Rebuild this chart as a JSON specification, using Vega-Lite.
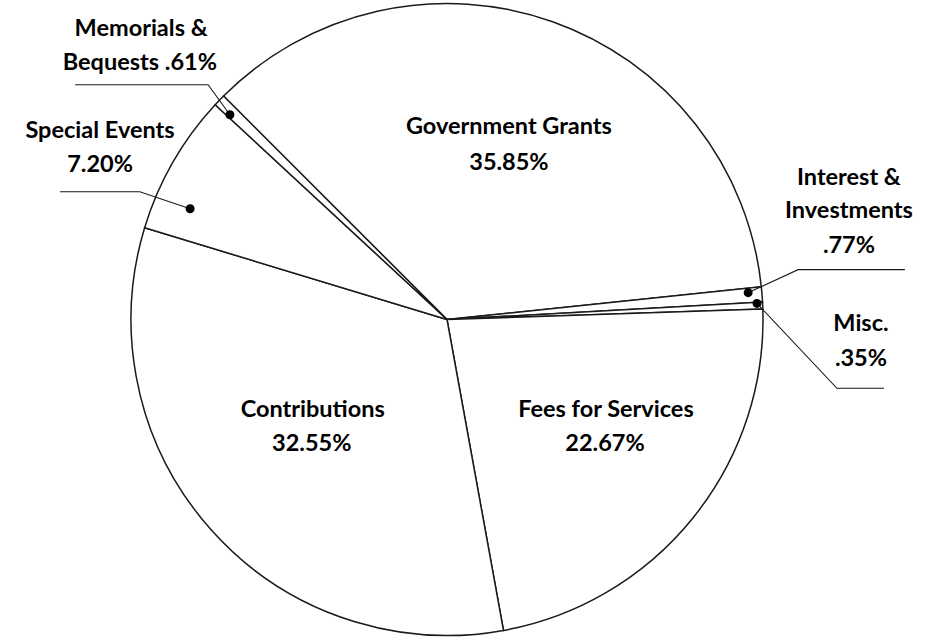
{
  "$schema": "https://vega.github.io/schema/vega-lite/v6.json",
  "width": 938,
  "height": 639,
  "autosize": {"type": "fit", "contains": "padding"},
  "padding": 0,
  "background": "white",
  "config": {"view": {"stroke": null}},
  "datasets": {
    "slices": [
      {"source": "Government Grants", "pct": 35.85, "rank": 1},
      {"source": "Interest & Investments", "pct": 0.77, "rank": 2},
      {"source": "Misc.", "pct": 0.35, "rank": 3},
      {"source": "Fees for Services", "pct": 22.67, "rank": 4},
      {"source": "Contributions", "pct": 32.55, "rank": 5},
      {"source": "Special Events", "pct": 7.20, "rank": 6},
      {"source": "Memorials & Bequests", "pct": 0.61, "rank": 7}
    ],
    "labels": [
      {"text": "Government Grants", "u": 19.6, "v": 58.9},
      {"text": "35.85%", "u": 19.6, "v": 47.5},
      {"text": "Fees for Services", "u": 50.3, "v": -31.0},
      {"text": "22.67%", "u": 50.0, "v": -41.8},
      {"text": "Contributions", "u": -42.5, "v": -31.0},
      {"text": "32.55%", "u": -42.8, "v": -41.8},
      {"text": "Special Events", "u": -109.8, "v": 57.6},
      {"text": "7.20%", "u": -109.8, "v": 46.8},
      {"text": "Memorials &", "u": -96.8, "v": 89.9},
      {"text": "Bequests .61%", "u": -97.2, "v": 79.1},
      {"text": "Interest &", "u": 127.2, "v": 42.7},
      {"text": "Investments", "u": 127.2, "v": 32.3},
      {"text": ".77%", "u": 127.2, "v": 21.2},
      {"text": "Misc.", "u": 131.0, "v": -3.5},
      {"text": ".35%", "u": 131.0, "v": -14.6}
    ],
    "leaders": [
      {"leader": "Memorials & Bequests", "seq": 1, "u": -117.7, "v": 74.4},
      {"leader": "Memorials & Bequests", "seq": 2, "u": -75.6, "v": 74.4},
      {"leader": "Memorials & Bequests", "seq": 3, "u": -68.7, "v": 64.9},
      {"leader": "Special Events", "seq": 1, "u": -122.5, "v": 40.5},
      {"leader": "Special Events", "seq": 2, "u": -97.2, "v": 40.5},
      {"leader": "Special Events", "seq": 3, "u": -81.3, "v": 35.1},
      {"leader": "Interest & Investments", "seq": 1, "u": 144.9, "v": 15.8},
      {"leader": "Interest & Investments", "seq": 2, "u": 111.1, "v": 15.8},
      {"leader": "Interest & Investments", "seq": 3, "u": 95.3, "v": 8.5},
      {"leader": "Misc.", "seq": 1, "u": 98.1, "v": 5.1},
      {"leader": "Misc.", "seq": 2, "u": 123.4, "v": -21.8},
      {"leader": "Misc.", "seq": 3, "u": 138.3, "v": -21.8}
    ],
    "dots": [
      {"leader": "Memorials & Bequests", "u": -68.7, "v": 64.9},
      {"leader": "Special Events", "u": -81.3, "v": 35.1},
      {"leader": "Interest & Investments", "u": 95.3, "v": 8.5},
      {"leader": "Misc.", "u": 98.1, "v": 5.1}
    ]
  },
  "layer": [
    {
      "data": {"name": "slices"},
      "mark": {"type": "arc", "radius": 316, "fill": "white", "stroke": "#1a1a1a", "strokeWidth": 1.5},
      "encoding": {
        "x": {"datum": 0, "type": "quantitative", "scale": {"domain": [-141.46, 155.38], "nice": false, "zero": false}, "axis": null},
        "y": {"datum": 0, "type": "quantitative", "scale": {"domain": [-100.95, 101.27], "nice": false, "zero": false}, "axis": null},
        "theta": {"field": "pct", "type": "quantitative", "stack": true, "scale": {"range": [-0.7854, 5.4978]}},
        "order": {"field": "rank", "type": "quantitative"}
      }
    },
    {
      "data": {"name": "leaders"},
      "mark": {"type": "line", "stroke": "#1a1a1a", "strokeWidth": 1.1},
      "encoding": {
        "x": {"field": "u", "type": "quantitative", "scale": {"domain": [-141.46, 155.38], "nice": false, "zero": false}, "axis": null},
        "y": {"field": "v", "type": "quantitative", "scale": {"domain": [-100.95, 101.27], "nice": false, "zero": false}, "axis": null},
        "detail": {"field": "leader"},
        "order": {"field": "seq", "type": "quantitative"}
      }
    },
    {
      "data": {"name": "dots"},
      "mark": {"type": "circle", "size": 80, "color": "black", "opacity": 1},
      "encoding": {
        "x": {"field": "u", "type": "quantitative", "scale": {"domain": [-141.46, 155.38], "nice": false, "zero": false}, "axis": null},
        "y": {"field": "v", "type": "quantitative", "scale": {"domain": [-100.95, 101.27], "nice": false, "zero": false}, "axis": null}
      }
    },
    {
      "data": {"name": "labels"},
      "mark": {"type": "text", "font": "Lato", "fontWeight": "bold", "fontSize": 23.5, "align": "center", "baseline": "alphabetic", "color": "black"},
      "encoding": {
        "x": {"field": "u", "type": "quantitative", "scale": {"domain": [-141.46, 155.38], "nice": false, "zero": false}, "axis": null},
        "y": {"field": "v", "type": "quantitative", "scale": {"domain": [-100.95, 101.27], "nice": false, "zero": false}, "axis": null},
        "text": {"field": "text"}
      }
    }
  ]
}
